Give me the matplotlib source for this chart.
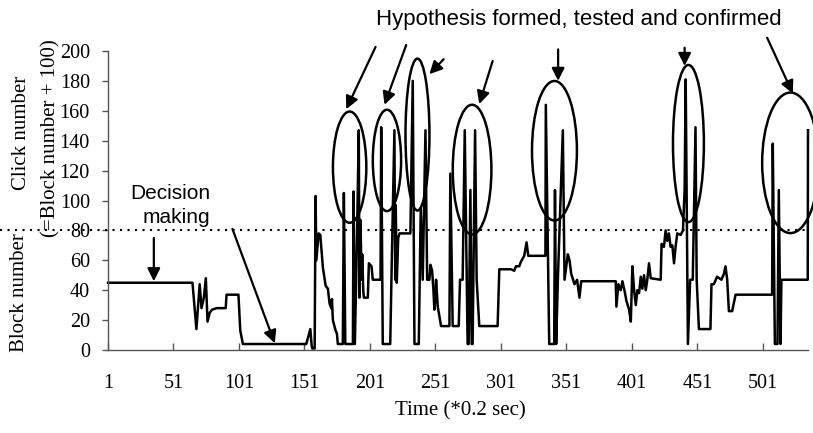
import matplotlib
matplotlib.use('Agg')
import matplotlib.pyplot as plt
from matplotlib.patches import Ellipse

# ---- data (vertices of the block-number trace) ----
time_idx = [1, 65.5, 68.5, 71, 72.4, 74.2, 75.7, 77, 78.7, 80.5, 84, 90.9, 91.5, 100.6, 102, 104,
            152.4, 155.5, 156.5, 157, 158.8, 159.5, 160.1, 161.8, 163.1, 165.1, 167.2, 168.9, 170.2,
            171.5, 172, 172.7, 174.8, 175.8, 176.5, 180.3, 181.1, 182.2, 188, 188.5, 189.5, 191,
            192.5, 193, 193.8, 194.6, 195.1, 195.9, 196.4, 199.4, 200.2, 202.2, 203.2, 209.1, 209.6,
            210.8, 216.5, 217.7, 219.7, 220.3, 220.7, 221.5, 222.6, 223.6, 231.9, 233.7, 235, 238.3,
            239.8, 241.3, 243.4, 244.7, 246.4, 247.2, 248.5, 249.5, 250.2, 251, 251.5, 252.8, 255.3,
            261.7, 262.4, 264.2, 268.8, 269.8, 271.8, 273.4, 275.6, 276.4, 277.7, 278.7, 279.4,
            281.3, 282.5, 284.5, 298.5, 299.8, 308.7, 311.2, 312.5, 315, 316.3, 318.8, 320.6, 321.9,
            335, 335.3, 337.9, 341.7, 342.3, 343.2, 344.5, 348.3, 349.6, 352.1, 353.4, 354.7, 357.2,
            359.2, 361, 362.3, 388.7, 389.2, 390.7, 392.5, 393.8, 395.8, 396.8, 398.9, 400.2, 401.4,
            402.7, 404, 405.2, 406.5, 407.8, 409, 410.3, 411.6, 412.8, 414.1, 415.4, 423, 423.7,
            425.5, 426.8, 428, 429.3, 430.6, 431.9, 433.2, 434.5, 435.7, 438.3, 440, 441.3, 442.1,
            443.8, 445.5, 447.5, 449.6, 450.5, 452.2, 461, 461.8, 463.6, 466.1, 469.4, 471.3, 472.5,
            473.8, 475.1, 477.6, 480.2, 508.1, 508.6, 510.2, 512.2, 513.2, 514.5, 515.2, 535.3, 535.5]
block_num = [45, 45, 14, 44, 28, 35, 48, 19, 25, 27, 28, 28, 37, 37, 13, 4,
             4, 14, 3, 1, 1, 103, 60, 78, 77, 55, 43, 41, 31,
             28, 34, 20, 13, 11, 4, 4, 105, 4, 4, 106, 4, 70,
             147, 35, 87, 47, 64, 40, 35, 35, 58, 56, 47, 47, 149,
             4, 4, 60, 147, 47, 97, 45, 75, 78, 78, 180, 4, 4,
             95, 47, 147, 47, 47, 57, 53, 40, 27, 35, 47, 29, 16,
             16, 118, 16, 16, 47, 47, 147, 4, 4, 107, 4, 4,
             147, 47, 16, 16, 54, 54, 53, 56, 56, 59, 63, 72, 63,
             63, 164, 4, 4, 107, 4, 47, 147, 47, 64, 60, 51, 44,
             47, 35, 46, 46, 29, 44, 40, 46, 38, 33, 27, 19, 56,
             40, 30, 40, 38, 49, 41, 50, 40, 47, 58, 48, 47, 71,
             69, 80, 73, 78, 69, 70, 58, 70, 78, 77, 80, 107, 181,
             4, 47, 47, 149, 47, 14, 14, 44, 44, 49, 47, 51, 56,
             47, 26, 26, 37, 37, 138, 4, 4, 107, 4, 47, 47, 147]

xtick_vals = [1, 51, 101, 151, 201, 251, 301, 351, 401, 451, 501]
ytick_vals = [0, 20, 40, 60, 80, 100, 120, 140, 160, 180, 200]
threshold = 80

# ellipses: (center x, center y, width, height) in data units
ellipses = [(185.5, 122.3, 25.5, 74.4), (214, 126.8, 21.6, 67.8), (237.3, 144.1, 18.3, 101.6),
            (279, 120.7, 29.5, 86.7), (341.9, 133.3, 34.3, 93.3), (444.2, 138.1, 23.6, 105.1),
            (522.1, 125.2, 43.2, 94)]
# arrows: (tail x, tail y, head x, head y)
hyp_arrows = [(205.3, 202.7, 182.9, 161.1), (228.7, 204, 212.1, 164), (257.3, 194.5, 246.4, 184.5),
              (294.7, 193.3, 284.5, 164.5), (344.7, 201.1, 344.7, 180), (441.3, 202.2, 441.3, 190),
              (504.3, 208.9, 523.9, 171.5)]
dec_arrows = [(36, 75, 36, 46), (96, 81, 128.3, 4.5)]

serif = 'Liberation Serif'
sans = 'Liberation Sans'

fig = plt.figure(figsize=(8.13, 4.33), dpi=100)
ax = fig.add_axes([108 / 813, 83 / 433, 700 / 813, 299 / 433])

ax.plot(time_idx, block_num, color='black', lw=1.8, clip_on=False)
ax.set_xlim(1, 535.5)
ax.set_ylim(0, 200)

for s in ['top', 'right']:
    ax.spines[s].set_visible(False)
for s in ['left', 'bottom']:
    ax.spines[s].set_color('#555555')
    ax.spines[s].set_linewidth(1.0)

ax.set_xticks(xtick_vals)
ax.set_xticklabels([str(v) for v in xtick_vals], fontfamily=serif, fontsize=14.5)
ax.set_yticks(ytick_vals)
ax.set_yticklabels([str(v) for v in ytick_vals], fontfamily=serif, fontsize=14.5)
ax.tick_params(axis='x', direction='in', length=5, width=1, color='#555555', pad=17)
ax.tick_params(axis='y', direction='out', length=4, width=1, color='#555555', pad=9)

# dotted threshold line extending past the axes
ax.axhline(threshold, xmin=-108 / 700, xmax=1.003, color='black', lw=1.5,
           ls=(0, (1, 2.6)), clip_on=False)

for cx, cy, w, h in ellipses:
    ax.add_patch(Ellipse((cx, cy), w, h, fill=False, edgecolor='black', lw=1.8, clip_on=False))

for tx, ty, hx, hy in hyp_arrows + dec_arrows:
    ax.annotate('', xy=(hx, hy), xytext=(tx, ty), xycoords='data', textcoords='data',
                arrowprops=dict(arrowstyle='-|>', color='black', lw=1.6, mutation_scale=19,
                                shrinkA=0, shrinkB=0), annotation_clip=False)

ax.text(360.8, 221.3, 'Hypothesis formed, tested and confirmed', fontfamily=sans, fontsize=16,
        ha='center', va='center', clip_on=False)
ax.text(48.3, 104.4, 'Decision', fontfamily=sans, fontsize=15, ha='center', va='center')
ax.text(53.4, 88.9, 'making', fontfamily=sans, fontsize=15, ha='center', va='center')

# axis labels
fig.text(21 / 813, 1 - 132.5 / 433, 'Click number', rotation=90, fontfamily=serif, fontsize=15,
         ha='center', va='center')
fig.text(51 / 813, 1 - 138 / 433, '(=Block number + 100)', rotation=90, fontfamily=serif,
         fontsize=15, ha='center', va='center')
fig.text(19 / 813, 1 - 292.5 / 433, 'Block number', rotation=90, fontfamily=serif, fontsize=15,
         ha='center', va='center')
fig.text(460 / 813, 1 - 411 / 433, 'Time (*0.2 sec)', fontfamily=serif, fontsize=15,
         ha='center', va='center')

fig.savefig('out.png', dpi=100)
